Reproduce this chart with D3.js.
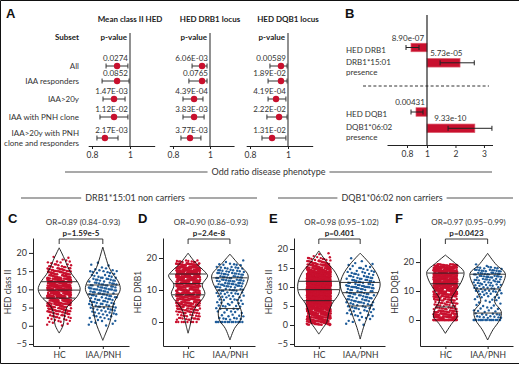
<!DOCTYPE html>
<html>
<head>
<meta charset="utf-8">
<script src="https://cdn.jsdelivr.net/npm/d3@7"></script>
<style>
  body { margin: 0; background: #fff; }
  svg { display: block; font-family: Lato, "Open Sans", sans-serif; }
</style>
</head>
<body>
<svg id="fig" width="520" height="365"></svg>
<script>
// ---------- data: panel A (forest plots) ----------
const subsets = [["All"], ["IAA responders"], ["IAA>20y"], ["IAA with PNH clone"], ["IAA>20y with PNH", "clone and responders"]];
const forestTitles = ["Mean class II HED", "HED DRB1 locus", "HED DQB1 locus"];
const meanHedOR = [0.932, 0.932, 0.916, 0.916, 0.868];
const meanHedLo = [0.874, 0.853, 0.858, 0.842, 0.826];
const meanHedHi = [0.989, 0.995, 0.974, 0.989, 0.937];
const meanHedP  = ["0.0274", "0.0852", "1.47E-03", "1.12E-02", "2.17E-03"];
const drb1OR = [0.957, 0.957, 0.914, 0.914, 0.892];
const drb1Lo = [0.903, 0.886, 0.854, 0.854, 0.843];
const drb1Hi = [0.984, 0.984, 0.962, 0.968, 0.951];
const drb1P  = ["6.06E-03", "0.0765", "4.39E-04", "3.83E-03", "3.77E-03"];
const dqb1OR = [0.963, 0.963, 0.937, 0.953, 0.916];
const dqb1Lo = [0.905, 0.895, 0.895, 0.889, 0.863];
const dqb1Hi = [0.995, 0.995, 0.989, 0.995, 0.989];
const dqb1P  = ["0.00589", "1.89E-02", "4.19E-04", "2.22E-02", "1.31E-02"];
const forestTicks = [0.8, 1];

// ---------- data: panel B (bars) ----------
const bRows = [["HED DRB1"], ["DRB1*15:01", "presence"], ["HED DQB1"], ["DQB1*06:02", "presence"]];
const bOR = [0.84, 2.16, 0.89, 2.68];
const bLo = [0.79, 1.46, 0.84, 1.74];
const bHi = [0.92, 2.66, 0.96, 3.28];
const bP  = ["8.90e-07", "5.73e-05", "0.00431", "9.33e-10"];
const bLabelAt = [0.81, 1.68, 0.83, 1.82];
const bTicks = [0.8, 1, 2, 3];

// ---------- data: panels C-F (violins) ----------
const groups = ["HC", "IAA/PNH"];
const orTexts = ["OR=0.89 (0.84–0.93)", "OR=0.90 (0.86–0.93)", "OR=0.98 (0.95–1.02)", "OR=0.97 (0.95–0.99)"];
const pTexts = ["p=1.59e-5", "p=2.4e-8", "p=0.401", "p=0.0423"];
const yLabels = ["HED class II", "HED DRB1", "HED class II", "HED DQB1"];
const yTicksCE = [-5, 0, 5, 10, 15, 20];
const yTicksDF = [0, 10, 20];

// violin outlines: HED level -> relative half width
const cHcLevels = [21.4, 20, 18, 16, 14, 12, 10, 8, 6, 5, 3, 1, 0, -1, -2];
const cHcWidths = [0, 0.12, 0.28, 0.42, 0.62, 0.88, 1.0, 0.85, 0.5, 0.36, 0.26, 0.22, 0.18, 0.1, 0];
const cIaaLevels = [21.6, 20, 18, 16, 14, 12, 10, 8, 6, 4, 2, 0, -2, -4];
const cIaaWidths = [0, 0.08, 0.18, 0.3, 0.5, 0.75, 0.83, 0.68, 0.5, 0.45, 0.38, 0.28, 0.14, 0];
const dHcLevels = [21.5, 18.3, 15.7, 14.4, 11.6, 9, 7.4, 5.3, 3.2, 0.6, -1.5, -3.5];
const dHcWidths = [0, 0.38, 0.8, 0.93, 0.67, 0.8, 0.7, 0.43, 0.24, 0.15, 0.08, 0];
const dIaaLevels = [21.2, 18.3, 14.7, 12.1, 8.4, 6.3, 3.2, 0.6, -2, -5.6];
const dIaaWidths = [0, 0.38, 0.86, 0.8, 0.5, 0.38, 0.55, 0.5, 0.22, 0];
const eHcLevels = [19.5, 16.5, 13.9, 10.8, 8.2, 5.5, 2.9, 0.7, -0.6, -2.4];
const eHcWidths = [0, 0.38, 0.78, 1.0, 0.95, 0.62, 0.46, 0.38, 0.22, 0];
const eIaaLevels = [18.9, 16, 13.4, 10.8, 8.6, 5.5, 2, -0.6, -3.7];
const eIaaWidths = [0, 0.48, 0.8, 0.95, 0.86, 0.55, 0.33, 0.16, 0];
const fHcLevels = [22.4, 19.5, 16.7, 13.8, 9.8, 6.9, 4, 1.1, -1.1, -4.6];
const fHcWidths = [0, 0.48, 0.88, 0.8, 0.48, 0.27, 0.48, 0.56, 0.32, 0];
const fIaaLevels = [23, 19, 16.1, 12.7, 9.2, 6.3, 2.9, 0, -3.4, -6.9];
const fIaaWidths = [0, 0.42, 0.84, 0.73, 0.46, 0.33, 0.65, 0.57, 0.25, 0];

// quartiles [Q1, median, Q3]
const cHcQuart = [7.6, 9.8, 12.1], cIaaQuart = [5.2, 8.7, 11.2];
const dHcQuart = [8.5, 12, 15],   dIaaQuart = [4.2, 10, 13.8];
const eHcQuart = [6.4, 9.3, 11.5], eIaaQuart = [5, 8.5, 11.2];
const fHcQuart = [4.5, 12.5, 16.2], fIaaQuart = [2.4, 10.7, 15.8];

// number of subjects per unit HED bin (bin 0, 1, 2, ...)
const cHcCounts  = [4, 8, 12, 16, 22, 30, 40, 48, 54, 58, 56, 50, 42, 34, 26, 18, 11, 6, 3];
const cIaaCounts = [4, 5, 7, 8, 9, 10, 10, 11, 12, 13, 14, 13, 11, 9, 7, 5, 3, 1];
const dHcCounts  = [8, 12, 10, 14, 18, 24, 28, 32, 36, 40, 38, 36, 40, 48, 54, 56, 50, 42, 34, 10];
const dIaaCounts = [14, 7, 5, 5, 5, 6, 6, 6, 7, 8, 10, 11, 12, 13, 13, 12, 10, 8, 6, 2];
const eHcCounts  = [45, 45, 50, 60, 80, 100, 120, 135, 145, 150, 140, 120, 100, 80, 60, 40, 22, 10, 3];
const eIaaCounts = [3, 4, 6, 7, 9, 10, 11, 12, 13, 14, 15, 14, 12, 9, 7, 5, 3, 1];
const fHcCounts  = [40, 32, 26, 20, 14, 10, 12, 18, 24, 30, 36, 40, 44, 48, 52, 56, 58, 52, 40, 24];
const fIaaCounts = [16, 8, 6, 5, 4, 3, 3, 4, 5, 6, 8, 8, 8, 9, 10, 12, 13, 12, 8, 2];

// ---------- drawing ----------
const RED = "#c8102e", BLUE = "#1f5c99", INK = "#222";
const svg = d3.select("#fig");

// frame
svg.append("path").attr("d", "M519,0.5 H0.5 V363.5 H519")
  .attr("fill", "none").attr("stroke", "#111").attr("stroke-width", 1);

function styleAxis(g, fs) {
  g.attr("font-family", null).attr("font-size", fs);
  g.select(".domain").attr("stroke", INK).attr("stroke-width", 1);
  g.selectAll(".tick line").attr("stroke", INK);
  g.selectAll(".tick text").attr("fill", "#333");
}

function letter(x, y, t) {
  svg.append("text").attr("x", x).attr("y", y)
    .attr("font-family", "'Liberation Sans', Arial, sans-serif")
    .attr("font-weight", "bold").attr("font-size", 13).attr("fill", "#111").text(t);
}

function errorBar(g, x1, x2, y, cap) {
  g.append("line").attr("x1", x1).attr("x2", x2).attr("y1", y).attr("y2", y);
  g.append("line").attr("x1", x1).attr("x2", x1).attr("y1", y - cap).attr("y2", y + cap);
  g.append("line").attr("x1", x2).attr("x2", x2).attr("y1", y - cap).attr("y2", y + cap);
}

// ---- panel A ----
letter(6, 18, "A");
const rowY = d3.scaleOrdinal().domain(d3.range(subsets.length)).range([66, 81, 99, 117, 138]);

svg.append("text").attr("x", 79).attr("y", 40).attr("text-anchor", "end")
  .attr("font-weight", "bold").attr("font-size", 8).attr("fill", INK).text("Subset");

subsets.forEach((lines, i) => {
  const t = svg.append("text").attr("text-anchor", "end").attr("font-size", 8).attr("fill", "#333");
  lines.forEach((ln, j) => {
    t.append("tspan").attr("x", 79)
      .attr("y", rowY(i) + 3 - (lines.length - 1) * 5 + j * 10).text(ln);
  });
});

const forestOR = [meanHedOR, drb1OR, dqb1OR];
const forestLo = [meanHedLo, drb1Lo, dqb1Lo];
const forestHi = [meanHedHi, drb1Hi, dqb1Hi];
const forestP = [meanHedP, drb1P, dqb1P];
const forestCenter = [130, 210, 288], forestK = [190, 185, 190];

forestTitles.forEach((title, f) => {
  const c = forestCenter[f], k = forestK[f];
  const x = d3.scaleLinear().domain([0.78, 1.13]).range([c - 0.22 * k, c + 0.13 * k]);
  const g = svg.append("g");
  g.append("text").attr("x", x(1)).attr("y", 22).attr("text-anchor", "middle")
    .attr("font-weight", "bold").attr("font-size", 8).attr("fill", INK).text(title);
  g.append("text").attr("x", x(1) - 3).attr("y", 40).attr("text-anchor", "end")
    .attr("font-weight", "bold").attr("font-size", 8).attr("fill", INK).text("p-value");
  g.append("line").attr("x1", x(1)).attr("x2", x(1)).attr("y1", 33).attr("y2", 146)
    .attr("stroke", "#555").attr("stroke-width", 1.3);
  const ax = g.append("g").attr("transform", "translate(0,146)")
    .call(d3.axisBottom(x).tickValues(forestTicks).tickFormat(d3.format("")).tickSize(3).tickSizeOuter(0).tickPadding(3));
  styleAxis(ax, 8.5);

  const eb = g.append("g").attr("stroke", "#333").attr("stroke-width", 1);
  forestOR[f].forEach((v, i) => {
    errorBar(eb, x(forestLo[f][i]), x(forestHi[f][i]), rowY(i), 2.5);
  });
  g.selectAll("circle.pt").data(forestOR[f]).join("circle")
    .attr("cx", d => x(d)).attr("cy", (d, i) => rowY(i)).attr("r", 3.2).attr("fill", RED);
  g.selectAll("text.pv").data(forestP[f]).join("text")
    .attr("x", x(1) - 2).attr("y", (d, i) => rowY(i) - 5).attr("text-anchor", "end")
    .attr("font-size", 8).attr("fill", "#333").text(d => d);
});

// ---- panel B ----
letter(345, 18, "B");
const xb = d3.scaleLinear().domain([0.6, 1, 3.3]).range([387, 427, 492.5]);
const yb = d3.scaleOrdinal().domain(d3.range(bRows.length)).range([47.5, 62.8, 112, 128.3]);
const bH = 8.5;
const gb = svg.append("g");
gb.append("line").attr("x1", 363).attr("x2", 489).attr("y1", 86).attr("y2", 86)
  .attr("stroke", "#333").attr("stroke-dasharray", "3,2.2");
gb.selectAll("rect").data(bOR).join("rect")
  .attr("x", d => Math.min(xb(d), xb(1))).attr("width", d => Math.abs(xb(d) - xb(1)))
  .attr("y", (d, i) => yb(i) - bH / 2).attr("height", bH)
  .attr("fill", RED).attr("stroke", "#dc5a6c").attr("stroke-width", 0.7);
const ebB = gb.append("g").attr("stroke", "#222").attr("stroke-width", 1);
bOR.forEach((v, i) => errorBar(ebB, xb(bLo[i]), xb(bHi[i]), yb(i), 2.5));
gb.append("line").attr("x1", xb(1)).attr("x2", xb(1)).attr("y1", 15).attr("y2", 145)
  .attr("stroke", INK).attr("stroke-width", 1.2);
const axB = gb.append("g").attr("transform", "translate(0,145)")
  .call(d3.axisBottom(xb).tickValues(bTicks).tickFormat(d3.format("")).tickSize(3).tickSizeOuter(0).tickPadding(3));
styleAxis(axB, 8.5);
gb.selectAll("text.bp").data(bP).join("text")
  .attr("x", (d, i) => xb(bLabelAt[i])).attr("y", (d, i) => yb(i) - 7)
  .attr("text-anchor", "middle").attr("font-size", 8).attr("fill", "#333").text(d => d);
bRows.forEach((lines, i) => {
  const t = gb.append("text").attr("font-size", 8).attr("fill", "#333");
  lines.forEach((ln, j) => {
    t.append("tspan").attr("x", 346).attr("y", (i % 2 === 0 ? yb(i) + 5 : yb(i) + 2) + j * 10).text(ln);
  });
});

// ---- section headers ----
function sectionHeader(cx, y, text, left, right, fs) {
  const t = svg.append("text").attr("x", cx).attr("y", y + 3).attr("text-anchor", "middle")
    .attr("font-size", fs).attr("fill", "#333").text(text);
  const w = t.node().getComputedTextLength();
  svg.append("line").attr("x1", left).attr("x2", cx - w / 2 - 4).attr("y1", y).attr("y2", y)
    .attr("stroke", "#555").attr("stroke-width", 1.2);
  svg.append("line").attr("x1", cx + w / 2 + 4).attr("x2", right).attr("y1", y).attr("y2", y)
    .attr("stroke", "#555").attr("stroke-width", 1.2);
}
sectionHeader(268.5, 172, "Odd ratio disease phenotype", 65, 492, 9);
sectionHeader(135, 198, "DRB1*15:01 non carriers", 21, 257, 9);
sectionHeader(392, 198, "DQB1*06:02 non carriers", 278, 513, 9);

// ---- panels C-F ----
function pointsFor(counts, discrete) {
  const pts = [];
  let i = 0;
  counts.forEach((n, b) => {
    for (let k = 0; k < n; k++, i++) {
      const fx = (i * 0.6180339) % 1, fy = (i * 0.7548777 + 0.31) % 1;
      const v = discrete ? (b === 0 ? 0 : b + (fy - 0.5) * 0.7) : b + fy;
      pts.push({ fx: fx, v: v });
    }
  });
  return pts;
}

const violinPanels = [
  { letter: "C", x0: 33, x1: 129, yDom: [-5.55, 24.1], yTicks: yTicksCE, discrete: false,
    levels: [cHcLevels, cIaaLevels], widths: [cHcWidths, cIaaWidths], quart: [cHcQuart, cIaaQuart], counts: [cHcCounts, cIaaCounts] },
  { letter: "D", x0: 163, x1: 255, yDom: [-7.5, 26.25], yTicks: yTicksDF, discrete: true,
    levels: [dHcLevels, dIaaLevels], widths: [dHcWidths, dIaaWidths], quart: [dHcQuart, dIaaQuart], counts: [dHcCounts, dIaaCounts] },
  { letter: "E", x0: 294, x1: 385, yDom: [-5.53, 22.9], yTicks: yTicksCE, discrete: false,
    levels: [eHcLevels, eIaaLevels], widths: [eHcWidths, eIaaWidths], quart: [eHcQuart, eIaaQuart], counts: [eHcCounts, eIaaCounts] },
  { letter: "F", x0: 420, x1: 513, yDom: [-8.97, 28.3], yTicks: yTicksDF, discrete: true,
    levels: [fHcLevels, fIaaLevels], widths: [fHcWidths, fIaaWidths], quart: [fHcQuart, fIaaQuart], counts: [fHcCounts, fIaaCounts] }
];

const wScale = d3.scaleLinear().domain([0, 1]).range([0, 21]);
const yBottom = 346, yTop = 238;

violinPanels.forEach((p, pi) => {
  const x = d3.scalePoint().domain(groups).range([p.x0, p.x1]).padding(0.6);
  const y = d3.scaleLinear().domain(p.yDom).range([yBottom, yTop]);
  const g = svg.append("g");
  const colors = [RED, BLUE], spread = [12, 14];

  // jittered subjects
  groups.forEach((grp, gi) => {
    const cx = x(grp);
    g.append("g").selectAll("circle").data(pointsFor(p.counts[gi], p.discrete)).join("circle")
      .attr("cx", d => cx + (d.fx - 0.5) * 2 * spread[gi])
      .attr("cy", d => y(d.v)).attr("r", 1.2).attr("fill", colors[gi]);
  });

  // violins + quartiles
  groups.forEach((grp, gi) => {
    const cx = x(grp);
    const area = d3.area().curve(d3.curveCatmullRom.alpha(0.5))
      .y(d => y(d[0])).x0(d => cx - wScale(d[1])).x1(d => cx + wScale(d[1]));
    g.append("path").datum(d3.zip(p.levels[gi], p.widths[gi])).attr("d", area)
      .attr("fill", "none").attr("stroke", "#111").attr("stroke-width", 0.9);
    const wAt = d3.scaleLinear().domain(p.levels[gi]).range(p.widths[gi]);
    p.quart[gi].forEach(q => {
      g.append("line").attr("x1", cx - wScale(wAt(q))).attr("x2", cx + wScale(wAt(q)))
        .attr("y1", y(q)).attr("y2", y(q)).attr("stroke", "#222").attr("stroke-width", 0.9);
    });
  });

  // axes
  const ay = g.append("g").attr("transform", `translate(${p.x0},0)`)
    .call(d3.axisLeft(y).tickValues(p.yTicks).tickSize(4).tickSizeOuter(0).tickPadding(2)
      .tickFormat(d => d < 0 ? "−" + Math.abs(d) : d));
  styleAxis(ay, 9);
  const axx = g.append("g").attr("transform", `translate(0,${yBottom})`)
    .call(d3.axisBottom(x).tickSize(3).tickSizeOuter(0).tickPadding(3));
  styleAxis(axx, 8.5);

  g.append("text").attr("transform", `translate(${p.x0 - 22},292) rotate(-90)`)
    .attr("text-anchor", "middle").attr("font-size", 8.5).attr("fill", "#333").text(yLabels[pi]);

  // header: OR, p value, bracket
  const mid = (x(groups[0]) + x(groups[1])) / 2;
  g.append("text").attr("x", mid + 2).attr("y", 225).attr("text-anchor", "middle")
    .attr("font-size", 8).attr("fill", "#333").text(orTexts[pi]);
  g.append("text").attr("x", mid).attr("y", 236).attr("text-anchor", "middle")
    .attr("font-size", 8).attr("font-weight", "bold").attr("fill", INK).text(pTexts[pi]);
  g.append("path")
    .attr("d", `M${x(groups[0])},244 V239 H${x(groups[1])} V244`)
    .attr("fill", "none").attr("stroke", INK).attr("stroke-width", 0.9);

  letter(p.x0 - 25, 223, p.letter);
});
</script>
</body>
</html>
